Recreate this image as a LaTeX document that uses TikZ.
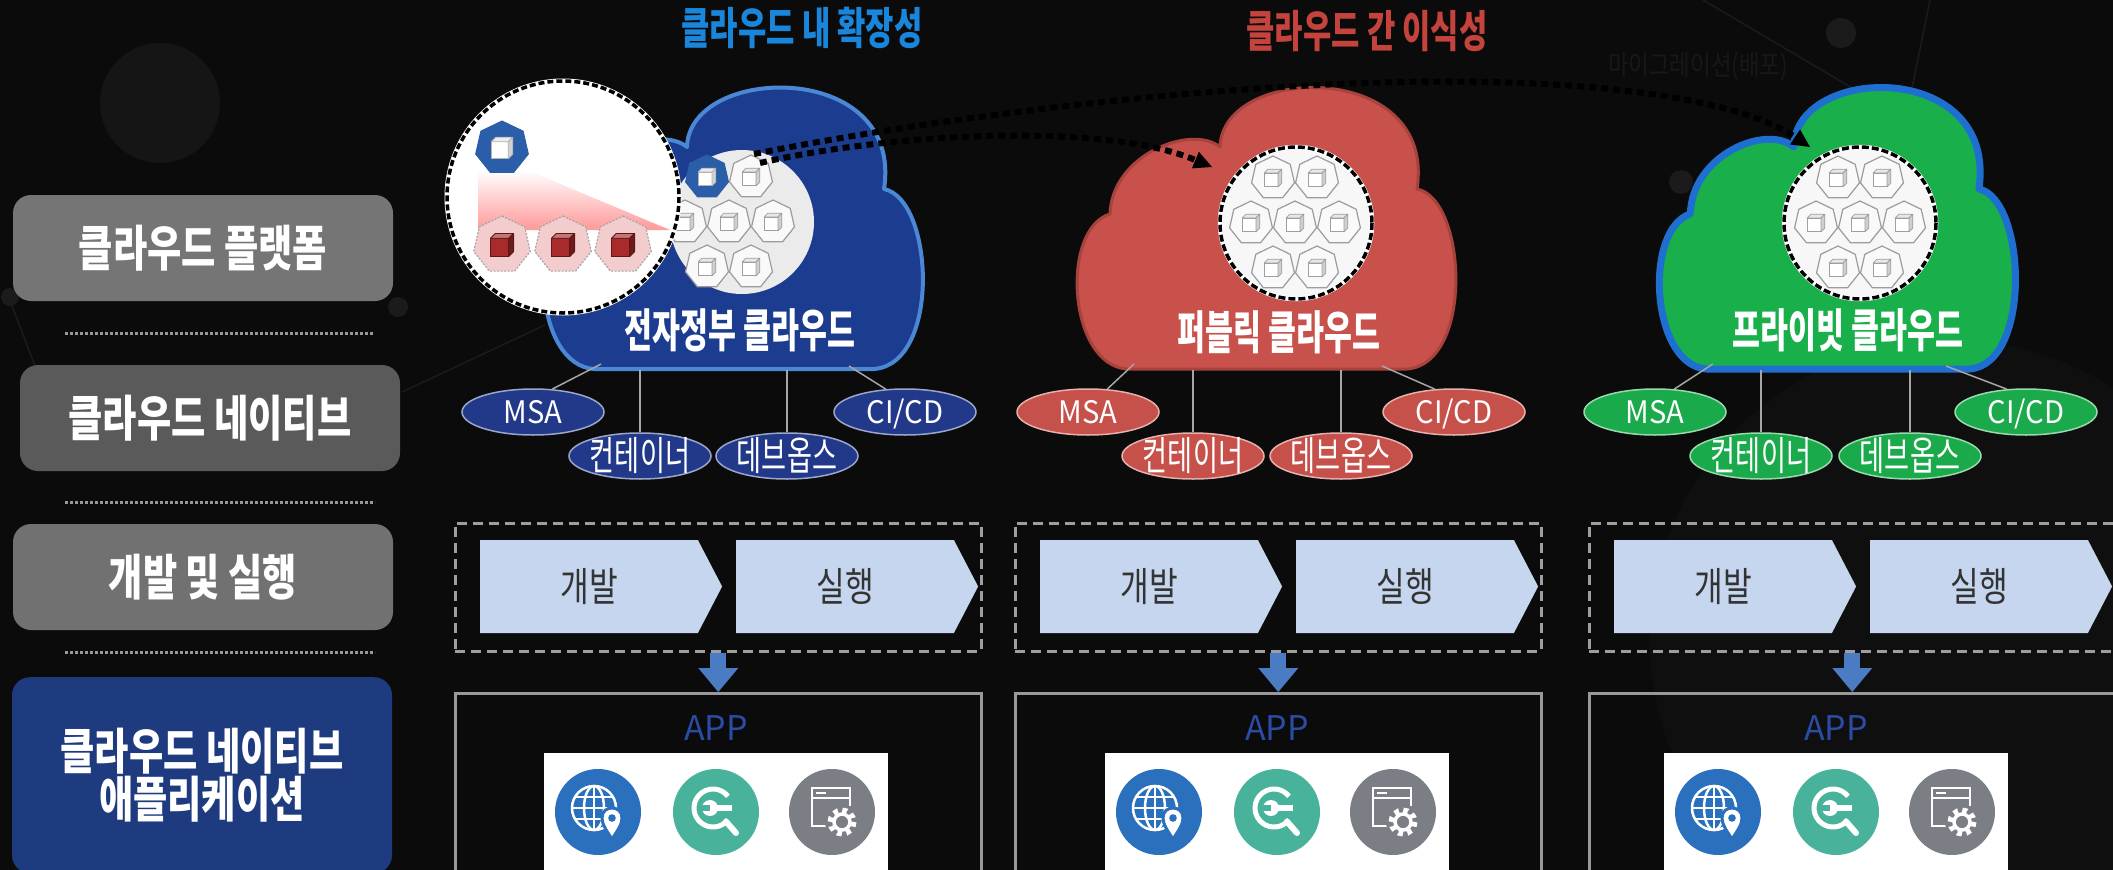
\documentclass[tikz,border=0pt]{standalone}
\usepackage{fontspec}
\usetikzlibrary{shapes.geometric,shapes.symbols,arrows.meta,calc}
\newfontfamily\krTag[FakeStretch=0.68]{Noto Sans CJK KR}
\newfontfamily\krLat[FakeStretch=0.94]{Noto Sans CJK KR}
\newfontfamily\krLay[FakeStretch=0.76]{Noto Sans CJK KR}
\newfontfamily\krCloud[FakeStretch=0.66]{Noto Sans CJK KR}
\newfontfamily\krHead[FakeStretch=0.70]{Noto Sans CJK KR}
\newfontfamily\krStep[FakeStretch=0.78]{Noto Sans CJK KR}
\newfontfamily\krApp{Noto Sans CJK KR}
\newfontfamily\krNote[FakeStretch=0.8]{Noto Sans CJK KR}

\definecolor{bgc}{HTML}{0B0B0B}
\definecolor{decor}{HTML}{1B1B1B}
\definecolor{noteGray}{HTML}{181818}
\definecolor{boxA}{HTML}{757575}
\definecolor{boxB}{HTML}{5A5A5A}
\definecolor{boxC}{HTML}{717171}
\definecolor{boxD}{HTML}{1F3B80}
\definecolor{cbFill}{HTML}{1C3D8F}
\definecolor{cbEdge}{HTML}{4A88D6}
\definecolor{crFill}{HTML}{C9514B}
\definecolor{crEdge}{HTML}{A8423C}
\definecolor{cgFill}{HTML}{19B04B}
\definecolor{cgEdge}{HTML}{1F6FD1}
\definecolor{tbFill}{HTML}{22398A}
\definecolor{trFill}{HTML}{C6504A}
\definecolor{tgFill}{HTML}{1AAA4B}
\definecolor{chev}{HTML}{C6D6EF}
\definecolor{appblue}{HTML}{2C4BA3}
\definecolor{arrowblue}{HTML}{4A7CC4}
\definecolor{icBlue}{HTML}{2A70BD}
\definecolor{icTeal}{HTML}{48B29A}
\definecolor{icGray}{HTML}{7C7E86}
\definecolor{podEdge}{HTML}{9C9C9C}
\definecolor{podBlue}{HTML}{2B5EA8}
\definecolor{podPink}{HTML}{F3CDCD}
\definecolor{cubeRed}{HTML}{A82A2A}
\definecolor{titleBlue}{HTML}{1A86DB}
\definecolor{titleRed}{HTML}{C4443D}

% text that takes no room, centred on the node's middle
\newcommand\tagtext[1]{\makebox[0pt]{\smash{\raisebox{-0.36em}{#1}}}}

\tikzset{
  layerbox/.style={rounded corners=18pt, minimum width=380pt, minimum height=106pt,
    text=white, font=\krLay\bfseries\fontsize{49}{46}\selectfont, align=center, inner sep=0pt},
  sepline/.style={draw=gray!80, line width=3pt, dash pattern=on 2.5pt off 2.5pt},
  cloudlabel/.style={text=white, font=\krCloud\bfseries\fontsize{46}{48}\selectfont},
  headline/.style={font=\krHead\bfseries\fontsize{44}{46}\selectfont},
  tag/.style={ellipse, minimum width=142pt, minimum height=46pt, inner sep=0pt,
    draw=#1!45!white, line width=1.5pt, fill=#1, text=white,
    font=\krTag\fontsize{40}{40}\selectfont},
  latin/.style={font=\krLat\fontsize{31}{32}\selectfont},
  stem/.style={draw=gray!70, line width=1.5pt},
  stepframe/.style={draw=gray!75, line width=2.5pt, dash pattern=on 10pt off 6pt,
    minimum width=526pt, minimum height=128pt, inner sep=0pt},
  chevbox/.style={signal, signal to=east, signal pointer angle=125, fill=chev,
    minimum width=242pt, minimum height=93pt, inner sep=0pt, text=black!80,
    font=\krStep\fontsize{40}{42}\selectfont},
  appframe/.style={draw=gray!80, line width=3pt, minimum width=526pt,
    minimum height=200pt, inner sep=0pt},
  apptitle/.style={text=appblue, font=\krApp\fontsize{34}{36}\selectfont},
  panel/.style={fill=white, minimum width=344pt, minimum height=130pt, inner sep=0pt},
  downarrow/.style={draw=arrowblue, line width=16pt,
    -{Triangle[length=24pt,width=40pt,line width=0pt]}},
  migr/.style={draw=black, line width=6pt, dash pattern=on 7pt off 5pt,
    -{Triangle[length=18pt,width=18pt,line width=0pt]}},
  pics/cloud/.style={code={
    \path[pic actions] (45,280) .. controls (-14,276) and (-22,140) .. (28,125)
      .. controls (30,65) and (110,35) .. (138,58)
      .. controls (140,-25) and (355,-30) .. (335,100)
      .. controls (385,110) and (392,275) .. (325,280) -- cycle;}},
}

% heptagon pod with a cube: x, y, radius, polygon style, front, top, side, edge
\newcommand\podat[8]{%
  \begin{scope}[shift={({#1},{#2})}]
    \draw[#4] (-90:#3) \foreach \k in {1,...,6}{ -- ({-90+\k*360/7}:#3)} -- cycle;
    \pgfmathsetmacro\podA{0.40*#3}%
    \pgfmathsetmacro\podD{0.17*#3}%
    \filldraw[draw=#8, fill=#5, line width=0.8pt, line join=round]
      ({-\podA},{-\podA+\podD}) rectangle ({\podA-\podD},{\podA});
    \filldraw[draw=#8, fill=#6, line width=0.8pt, line join=round]
      ({-\podA},{-\podA+\podD}) -- ({-\podA+\podD},{-\podA}) -- ({\podA},{-\podA})
      -- ({\podA-\podD},{-\podA+\podD}) -- cycle;
    \filldraw[draw=#8, fill=#7, line width=0.8pt, line join=round]
      ({\podA-\podD},{-\podA+\podD}) -- ({\podA},{-\podA}) -- ({\podA},{\podA-\podD})
      -- ({\podA-\podD},{\podA}) -- cycle;
  \end{scope}}
\newcommand\wpod[2]{\podat{#1}{#2}{22}{draw=podEdge,fill=white!95!gray,line width=1.2pt}{white}{gray!18}{gray!38}{gray!75}}
\newcommand\bpod[3]{\podat{#1}{#2}{#3}{draw=podBlue,fill=podBlue,line width=1pt}{white}{gray!15}{gray!35}{gray!60}}
\newcommand\rpod[2]{\podat{#1}{#2}{29}{draw=gray!70,fill=podPink,line width=1.2pt,dash pattern=on 2pt off 1.5pt}{cubeRed}{cubeRed!65!white}{cubeRed!65!black}{cubeRed!55!black}}
\newcommand\podcluster[2]{%
  \wpod{#1-22}{#2-45}\wpod{#1+22}{#2-45}%
  \wpod{#1-44}{#2}\wpod{#1}{#2}\wpod{#1+44}{#2}%
  \wpod{#1-22}{#2+45}\wpod{#1+22}{#2+45}}

% round application icons
\newcommand\iconGlobe[2]{%
  \begin{scope}[shift={({#1},{#2})}]
    \fill[icBlue] (0,0) circle (43);
    \begin{scope}[draw=white, line width=2.5pt]
      \draw (-4,-4) circle (22);
      \draw (-4,-4) ellipse (10 and 22);
      \draw (-26,-4) -- (18,-4);
      \draw (-22,-15) -- (14,-15);
      \draw (-22,7) -- (14,7);
      \draw (-4,-26) -- (-4,18);
    \end{scope}
    \filldraw[fill=white, draw=icBlue, line width=3pt]
      (14,27) .. controls (8,18) and (4,12) .. (4,6) .. controls (4,-1) and (9,-4) .. (14,-4)
      .. controls (19,-4) and (24,-1) .. (24,6) .. controls (24,12) and (20,18) .. (14,27) -- cycle;
    \fill[icBlue] (14,6) circle (3.8);
  \end{scope}}
\newcommand\iconTool[2]{%
  \begin{scope}[shift={({#1},{#2})}]
    \fill[icTeal] (0,0) circle (43);
    \draw[white, line width=5pt] ([shift={(-3,-4)}]38:19) arc[start angle=38, end angle=322, radius=19];
    \draw[white, line width=6pt, line cap=round] (10,9.5) -- (20,21);
    \draw[white, line width=6pt] (-6,-4) -- (16,-4);
    \fill[white] (-6,-4) circle (8);
    \fill[icTeal] (-15,-7) rectangle (-6,-1);
  \end{scope}}
\newcommand\iconGear[2]{%
  \begin{scope}[shift={({#1},{#2})}]
    \fill[icGray] (0,0) circle (43);
    \begin{scope}[draw=white, line width=2.5pt]
      \draw (-4,14) -- (-20,14) -- (-20,-24) -- (18,-24) -- (18,-6);
      \draw (-20,-14) -- (18,-14);
      \draw (-16,-19) -- (-6,-19);
    \end{scope}
    \fill[icGray] (10,10) circle (17);
    \draw[white, line width=5pt, dash pattern=on 4.7pt off 4.725pt] (10,10) circle (12);
    \draw[white, line width=3.5pt] (10,10) circle (8);
  \end{scope}}

\begin{document}
\begin{tikzpicture}[x=1pt,y=-1pt]
\useasboundingbox (0,0) rectangle (2113,870);
\clip (0,0) rectangle (2113,870);
\fill[bgc] (0,0) rectangle (2113,870);

% faint network ornaments in the background
\fill[decor!60!bgc] (160,103) circle (60);
\fill[decor!25!bgc] (1950,640) circle (300);
\draw[decor, line width=1.5pt] (6,290) -- (48,400);
\draw[decor, line width=1.5pt] (402,392) -- (545,325);
\draw[decor, line width=1.5pt] (1703,0) -- (1859,92);
\draw[decor, line width=1.5pt] (1930,0) -- (1912,88);
\fill[decor] (10,297) circle (9);
\fill[decor] (398,307) circle (10);
\fill[decor] (1841,33) circle (15);
\fill[decor] (1681,182) circle (12);

% layer labels on the left
\node[layerbox, fill=boxA] (lay1) at (203,248) {클라우드 플랫폼};
\node[layerbox, fill=boxB] (lay2) at (210,418) {클라우드 네이티브};
\node[layerbox, fill=boxC] (lay3) at (203,577) {개발 및 실행};
\node[layerbox, fill=boxD, minimum height=196pt, anchor=north] (lay4) at (202,677)
  {클라우드 네이티브\\애플리케이션};
\draw[sepline] (65,333) -- (373,333);
\draw[sepline] (65,502) -- (375,502);
\draw[sepline] (65,652) -- (375,652);

% headings
\node[headline, text=titleBlue] (headScale) at (802,28) {클라우드 내 확장성};
\node[headline, text=titleRed] (headPort) at (1367,31) {클라우드 간 이식성};
\node[text=noteGray, font=\krNote\fontsize{28}{30}\selectfont] (headMig) at (1698,67) {마이그레이션(배포)};

% the three clouds
\pic[fill=cbFill, draw=cbEdge, line width=4pt, line join=round] at (549,89) {cloud};
\pic[fill=crFill, draw=crEdge, line width=3pt, line join=round] at (1082,89) {cloud};
\pic[fill=cgFill, draw=cgEdge, line width=7pt, line join=round, xscale=0.94] at (1664,89) {cloud};

% pod clusters
\fill[white!92!black] (742,222) circle (72);
\bpod{707}{177}{22}\wpod{751}{177}
\wpod{685}{222}\wpod{729}{222}\wpod{773}{222}
\wpod{707}{267}\wpod{751}{267}

\fill[white!97!black] (1296,223) circle (76);
\podcluster{1295}{223}
\draw[white, line width=4.5pt] (1296,223) circle (76);
\draw[black, line width=3.5pt, dash pattern=on 7pt off 3pt] (1296,223) circle (76);

\fill[white!97!black] (1860,223) circle (76);
\podcluster{1860}{223}
\draw[white, line width=4.5pt] (1860,223) circle (76);
\draw[black, line width=3.5pt, dash pattern=on 7pt off 3pt] (1860,223) circle (76);

% magnified view of the scaled pods
\coordinate (mag) at (563,197);
\fill[white] (mag) circle (116);
\begin{scope}
  \clip (mag) circle (116);
  \shade[top color=white, bottom color=red!40!white] (478,170) -- (527,170) -- (670,230) -- (478,230) -- cycle;
\end{scope}
\bpod{502}{148}{27}
\rpod{502}{245}\rpod{563}{245}\rpod{623}{245}
\draw[white, line width=5pt] (mag) circle (116);
\draw[black, line width=3.5pt, dash pattern=on 6pt off 3pt] (mag) circle (116);

% migration paths between clouds
\coordinate (migA) at (754,154);
\coordinate (migB) at (760,163);
\coordinate (migToPri) at (1810,147);
\coordinate (migToPub) at (1212,167);
\draw[migr] (migA) .. controls (900,125) and (1150,88) .. (1400,82)
  .. controls (1600,78) and (1740,100) .. (migToPri);
\draw[migr] (migB) .. controls (880,135) and (1100,120) .. (migToPub);

% cloud names
\node[cloudlabel] (nameGov) at (740,330) {전자정부 클라우드};
\node[cloudlabel] (namePub) at (1279,332) {퍼블릭 클라우드};
\node[cloudlabel] (namePri) at (1848,330) {프라이빗 클라우드};

% cloud-native tags hanging under each cloud
\foreach \c/\ox/\s/\tc/\mx/\kx/\dx/\ix in {
    1/549/1/tbFill/533/640/787/905,
    2/1082/1/trFill/1088/1193/1341/1454,
    3/1664/0.94/tgFill/1655/1761/1910/2026}{
  \node[tag=\tc, latin] (msa\c) at (\mx,412) {\tagtext{MSA}};
  \node[tag=\tc] (ctr\c) at (\kx,456) {\tagtext{컨테이너}};
  \node[tag=\tc] (ops\c) at (\dx,456) {\tagtext{데브옵스}};
  \node[tag=\tc, latin] (cicd\c) at (\ix,412) {\tagtext{CI/CD}};
  \coordinate (cbl\c) at ({\ox+52*\s},364);
  \coordinate (cbr\c) at ({\ox+300*\s},366);
  \coordinate (cbk\c) at (\kx,370);
  \coordinate (cbd\c) at (\dx,370);
  \draw[stem] (msa\c.50) -- (cbl\c);
  \draw[stem] (cicd\c.130) -- (cbr\c);
  \draw[stem] (ctr\c.north) -- (cbk\c);
  \draw[stem] (ops\c.north) -- (cbd\c);
}

% build / run steps and the resulting application
\foreach \c/\L/\pl in {1/454/544, 2/1014/1105, 3/1588/1664}{
  \node[stepframe, anchor=north west] (frame\c) at (\L,522) {};
  \node[chevbox] (build\c) at ({\L+135},586.5) {개발};
  \node[chevbox] (run\c) at ({\L+391},586.5) {실행};
  \node[appframe, anchor=north west] (app\c) at (\L,692) {};
  \draw[downarrow] (frame\c.south) -- (frame\c.south |- app\c.north);
  \node[apptitle] (apptxt\c) at ({\pl+172},728) {APP};
  \node[panel, anchor=north west] (panel\c) at (\pl,753) {};
  \iconGlobe{\pl+54}{812}
  \iconTool{\pl+172}{812}
  \iconGear{\pl+288}{812}
}
\end{tikzpicture}
\end{document}
